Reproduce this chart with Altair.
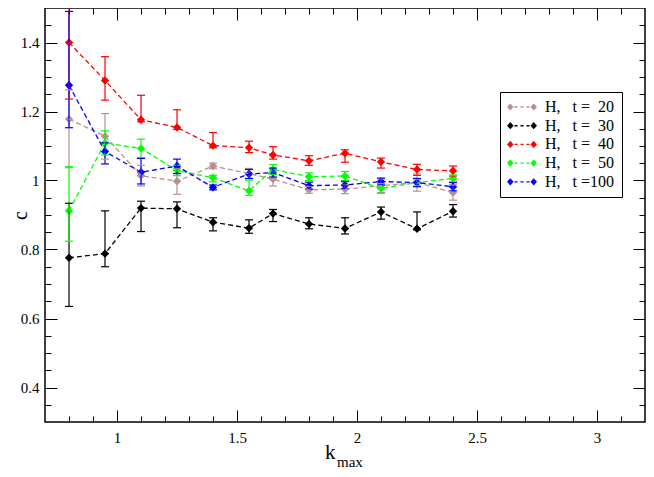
import altair as alt
import pandas as pd

# ---------------- data ----------------
K_MAX = [0.8, 0.95, 1.1, 1.25, 1.4, 1.55, 1.65, 1.8, 1.95, 2.1, 2.25, 2.4]

NB = "\u00a0"
SERIES = [
    f"H,{NB*3}t{NB}={NB*2}20",
    f"H,{NB*3}t{NB}={NB*2}30",
    f"H,{NB*3}t{NB}={NB*2}40",
    f"H,{NB*3}t{NB}={NB*2}50",
    f"H,{NB*3}t{NB}=100",
]
COLORS = ["#bc8f8f", "#000000", "#ff0000", "#00ff00", "#0000ff"]

C_T20 = [1.178, 1.128, 1.014, 0.998, 1.042, 1.020, 1.004, 0.973, 0.975, 0.985, 0.994, 0.965]
LO_T20 = [1.037, 1.062, 0.984, 0.960, 1.034, 1.005, 0.984, 0.963, 0.962, 0.965, 0.969, 0.943]
HI_T20 = [1.263, 1.194, 1.044, 1.034, 1.050, 1.035, 1.024, 0.983, 0.988, 1.005, 1.019, 0.987]

C_T30 = [0.776, 0.788, 0.920, 0.918, 0.879, 0.862, 0.904, 0.874, 0.861, 0.909, 0.860, 0.911]
LO_T30 = [0.635, 0.750, 0.852, 0.863, 0.854, 0.847, 0.881, 0.860, 0.845, 0.888, 0.857, 0.894]
HI_T30 = [0.934, 0.912, 0.940, 0.938, 0.892, 0.886, 0.916, 0.892, 0.892, 0.923, 0.909, 0.930]

C_T40 = [1.400, 1.290, 1.176, 1.154, 1.101, 1.095, 1.074, 1.057, 1.079, 1.054, 1.032, 1.028]
LO_T40 = [1.236, 1.233, 1.170, 1.148, 1.095, 1.081, 1.062, 1.044, 1.053, 1.036, 1.015, 1.013]
HI_T40 = [1.565, 1.359, 1.247, 1.205, 1.139, 1.114, 1.098, 1.072, 1.089, 1.065, 1.047, 1.042]

C_T50 = [0.912, 1.109, 1.093, 1.029, 1.008, 0.970, 1.032, 1.011, 1.013, 0.977, 0.994, 1.006]
LO_T50 = [0.824, 1.074, 1.066, 1.014, 0.996, 0.957, 1.018, 1.000, 1.000, 0.963, 0.984, 0.996]
HI_T50 = [1.040, 1.144, 1.120, 1.044, 1.015, 1.001, 1.046, 1.022, 1.026, 0.991, 1.004, 1.016]

C_T100 = [1.276, 1.084, 1.024, 1.042, 0.980, 1.019, 1.023, 0.985, 0.987, 0.997, 0.994, 0.982]
LO_T100 = [1.153, 1.048, 0.990, 1.020, 0.973, 1.006, 1.010, 0.975, 0.977, 0.987, 0.982, 0.970]
HI_T100 = [1.490, 1.109, 1.064, 1.062, 0.987, 1.032, 1.036, 0.995, 0.997, 1.007, 1.006, 0.994]

X_TICKS = [0.8, 0.9, 1.0, 1.1, 1.2, 1.3, 1.4, 1.5, 1.6, 1.7, 1.8, 1.9, 2.0,
           2.1, 2.2, 2.3, 2.4, 2.5, 2.6, 2.7, 2.8, 2.9, 3.0, 3.1]
Y_TICKS = [0.35, 0.4, 0.45, 0.5, 0.55, 0.6, 0.65, 0.7, 0.75, 0.8, 0.85, 0.9,
           0.95, 1.0, 1.05, 1.1, 1.15, 1.2, 1.25, 1.3, 1.35, 1.4, 1.45]

# ---------------- tables ----------------
VALUES = [C_T20, C_T30, C_T40, C_T50, C_T100]
LOWS = [LO_T20, LO_T30, LO_T40, LO_T50, LO_T100]
HIGHS = [HI_T20, HI_T30, HI_T40, HI_T50, HI_T100]

rows, caps = [], []
for name, cs_, los, his in zip(SERIES, VALUES, LOWS, HIGHS):
    for k, c, lo, hi in zip(K_MAX, cs_, los, his):
        rows.append({"k": k, "c": c, "lo": lo, "hi": hi, "series": name})
        caps.append({"k": k, "v": lo, "series": name})
        caps.append({"k": k, "v": hi, "series": name})
df = pd.DataFrame(rows)
df_caps = pd.DataFrame(caps)

# ---------------- styling ----------------
FONT = "'Liberation Serif', 'Times New Roman', 'DejaVu Serif', serif"
W, H = 600, 414

xs = alt.Scale(domain=[0.7, 3.2], nice=False, zero=False)
ys = alt.Scale(domain=[0.3, 1.5], nice=False, zero=False)
cs = alt.Scale(domain=SERIES, range=COLORS)

x_major = "abs(datum.value * 2 - round(datum.value * 2)) < 0.001"
y_major = "abs(datum.value * 5 - round(datum.value * 5)) < 0.001"


def axis(orient, values, major, labels):
    kw = dict(
        orient=orient, values=values, grid=False, domain=False, title=None,
        ticks=True, tickColor="black", tickWidth=1,
        tickSize={"expr": f"({major}) ? -12 : -6"},
        labels=labels,
    )
    if labels:
        kw.update(
            format="~g",
            labelExpr=f"({major}) ? datum.label : ''",
            labelFont=FONT, labelFontSize=15, labelColor="black",
            labelOverlap=False, labelFlush=False, labelBound=False,
            labelPadding=20 if orient == "bottom" else 18,
        )
    return alt.Axis(**kw)


ax_bottom = axis("bottom", X_TICKS, x_major, True)
ax_top = axis("top", X_TICKS, x_major, False)
ax_left = alt.Axis(
    orient="left", values=Y_TICKS, grid=False, domain=False,
    ticks=True, tickColor="black", tickWidth=1,
    tickSize={"expr": f"({y_major}) ? -12 : -6"},
    format="~g", labelExpr=f"({y_major}) ? datum.label : ''",
    labelFont=FONT, labelFontSize=15, labelColor="black",
    labelOverlap=False, labelFlush=False, labelBound=False, labelPadding=18,
    title="c", titleFont=FONT, titleFontSize=20, titleFontWeight="normal",
    titleColor="black", titleX=-19, titleY=H / 2, titleAngle=270,
    titleAlign="center", titleBaseline="alphabetic",
)
ax_right = axis("right", Y_TICKS, y_major, False)

LEG_PATH = (
    "M-1,0L-0.78,-0.24L-0.56,0L-0.78,0.24Z "
    "M0.56,0L0.78,-0.24L1,0L0.78,0.24Z "
    "M-0.5,-0.045L-0.3,-0.045L-0.3,0.045L-0.5,0.045Z "
    "M-0.1,-0.045L0.1,-0.045L0.1,0.045L-0.1,0.045Z "
    "M0.3,-0.045L0.5,-0.045L0.5,0.045L0.3,0.045Z"
)
legend = alt.Legend(
    title=None, orient="none", legendX=455, legendY=84,
    symbolType=LEG_PATH, symbolSize=900, symbolStrokeWidth=0, symbolOpacity=1,
    symbolDash=[1, 0], clipHeight=16,
    labelFont=FONT, labelFontSize=16, labelColor="black", labelOffset=8,
    labelLimit=300, padding=7, rowPadding=2.7,
    strokeColor="black", fillColor="white",
)

color = alt.Color("series:N", scale=cs, legend=legend)

rules = alt.Chart(df).mark_rule(clip=True, strokeWidth=1.2).encode(
    x=alt.X("k:Q", scale=xs, axis=ax_bottom),
    y=alt.Y("lo:Q", scale=ys, axis=ax_left),
    y2="hi:Q",
    color=color,
)

cap_marks = alt.Chart(df_caps).mark_tick(
    orient="horizontal", size=8, thickness=1.2, clip=True, opacity=1
).encode(
    x=alt.X("k:Q", scale=xs, axis=ax_top),
    y=alt.Y("v:Q", scale=ys, axis=ax_right),
    color=color,
)

lines = alt.Chart(df).mark_line(strokeDash=[5, 3], strokeWidth=1.3).encode(
    x=alt.X("k:Q", scale=xs, axis=None),
    y=alt.Y("c:Q", scale=ys, axis=None),
    color=color,
)

points = alt.Chart(df).mark_point(
    shape="diamond", filled=True, size=70, opacity=1
).encode(
    x=alt.X("k:Q", scale=xs, axis=None),
    y=alt.Y("c:Q", scale=ys, axis=None),
    color=color,
)

lbl = pd.DataFrame({"t": ["k"]})
k_text = alt.Chart(lbl).mark_text(
    text="k", font=FONT, fontSize=21, align="left", baseline="alphabetic", color="black"
).encode(x=alt.value(280), y=alt.value(H + 37))
max_text = alt.Chart(lbl).mark_text(
    text="max", font=FONT, fontSize=15, align="left", baseline="alphabetic", color="black"
).encode(x=alt.value(292), y=alt.value(H + 45))

chart = alt.layer(points, rules, cap_marks, lines, k_text, max_text).resolve_axis(
    x="independent", y="independent"
).properties(
    width=W, height=H,
    autosize=alt.AutoSizeParams(type="none"),
    padding={"left": 37, "top": 0, "right": 1, "bottom": 47},
).configure_view(
    stroke="black", strokeWidth=1.5
).configure_axis(grid=False)

chart.save("out.html", embed_options={"renderer": "svg", "actions": False})
